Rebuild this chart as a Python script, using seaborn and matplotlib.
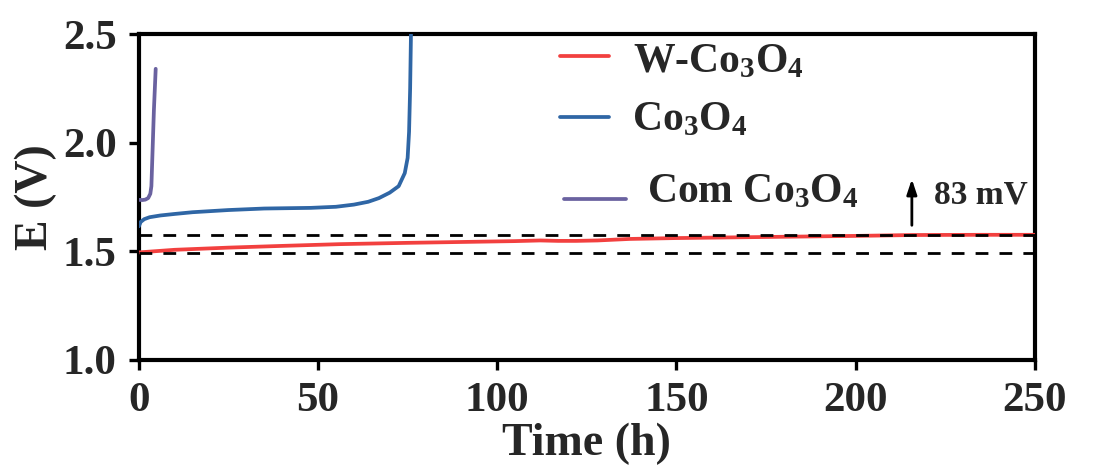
import numpy as np
import pandas as pd
import matplotlib
matplotlib.use("Agg")
import matplotlib.pyplot as plt
import seaborn as sns

# Chronopotentiometry: cell potential vs. time for three catalysts
w_time = [0, 10, 25, 40, 56, 75, 90, 105, 112, 117, 122, 128, 137, 150, 165, 180, 200, 216, 235, 250]
w_volt = [1.495, 1.507, 1.517, 1.525, 1.533, 1.539, 1.543, 1.547, 1.550, 1.548,
          1.548, 1.550, 1.557, 1.561, 1.564, 1.567, 1.571, 1.575, 1.576, 1.576]

co_time = [0, 0.5, 1.5, 3, 6, 10, 15, 25, 35, 48, 55, 60, 64, 67, 70, 72.5, 74.2, 75.0, 75.4, 75.7, 75.95]
co_volt = [1.615, 1.635, 1.648, 1.657, 1.665, 1.672, 1.680, 1.690, 1.697, 1.700, 1.705,
           1.715, 1.728, 1.745, 1.770, 1.800, 1.860, 1.930, 2.050, 2.250, 2.520]

com_time = [0, 1.0, 1.8, 2.6, 3.2, 3.5, 3.8, 4.2, 4.7]
com_volt = [1.737, 1.736, 1.738, 1.745, 1.765, 1.800, 1.950, 2.150, 2.340]

labels = [r"W-Co$_3$O$_4$", r"Co$_3$O$_4$", r"Com Co$_3$O$_4$"]
colors = ["#F2403F", "#2F66A5", "#6A62A0"]

# reference potentials bracketing the W-Co3O4 trace (83 mV apart)
ref_low = 1.491
ref_high = 1.574
shift_label = "83 mV"

x_ticks = [0, 50, 100, 150, 200, 250]
y_ticks = [1.0, 1.5, 2.0, 2.5]

sns.set_style("ticks")
plt.rcParams["font.family"] = ["Liberation Serif", "DejaVu Serif"]
plt.rcParams["font.weight"] = "bold"
plt.rcParams["mathtext.fontset"] = "custom"
plt.rcParams["mathtext.rm"] = "Liberation Serif:bold"
plt.rcParams["mathtext.it"] = "Liberation Serif:bold"
plt.rcParams["mathtext.bf"] = "Liberation Serif:bold"

fig = plt.figure(figsize=(11.02, 4.73), dpi=100)
ax = fig.add_axes([0.126, 0.239, 0.813, 0.689])

series = [(w_time, w_volt), (co_time, co_volt), (com_time, com_volt)]
for (t, v), c in zip(series, colors):
    df = pd.DataFrame({"t": t, "E": v})
    sns.lineplot(data=df, x="t", y="E", ax=ax, color=c, lw=2.7,
                 sort=False, estimator=None, zorder=3)

for level in (ref_low, ref_high):
    ax.axhline(level, color="black", lw=2.0, dashes=(4.6, 4.0), zorder=4)

ax.set_xlim(0, 250)
ax.set_ylim(1.0, 2.5)
ax.set_xticks(x_ticks)
ax.set_yticks(y_ticks)
ax.set_xticklabels([f"{x:d}" for x in x_ticks])
ax.set_yticklabels([f"{y:.1f}" for y in y_ticks])
ax.tick_params(axis="both", direction="out", length=7, width=2.4,
               labelsize=31, pad=9, color="black")
for lab in ax.get_xticklabels() + ax.get_yticklabels():
    lab.set_fontweight("bold")
for sp in ax.spines.values():
    sp.set_linewidth(3.0)
    sp.set_color("black")
    sp.set_visible(True)

ax.set_xlabel("Time (h)", fontsize=33, fontweight="bold", labelpad=2)
ax.set_ylabel("E (V)", fontsize=33, fontweight="bold", labelpad=4)

# potential increase marker
ax.annotate("", xy=(215.7, 1.845), xytext=(215.7, 1.607),
            arrowprops=dict(arrowstyle="-|>,head_length=0.9,head_width=0.3",
                            color="black", lw=2.0))
ax.text(222, 1.76, shift_label, fontsize=24, fontweight="bold",
        ha="left", va="center")

# legend entries
rows = [(0.470, 0.525, 0.933, 0.552, 0.912),
        (0.470, 0.525, 0.746, 0.550, 0.735),
        (0.475, 0.544, 0.494, 0.567, 0.515)]
for (x0, x1, yl, xt, yt), lab, c in zip(rows, labels, colors):
    ax.plot([x0, x1], [yl, yl], transform=ax.transAxes, color=c, lw=2.7,
            solid_capstyle="round", clip_on=False)
    ax.text(xt, yt, lab, transform=ax.transAxes, fontsize=30,
            fontweight="bold", ha="left", va="center")

fig.savefig("out.png", dpi=100)
